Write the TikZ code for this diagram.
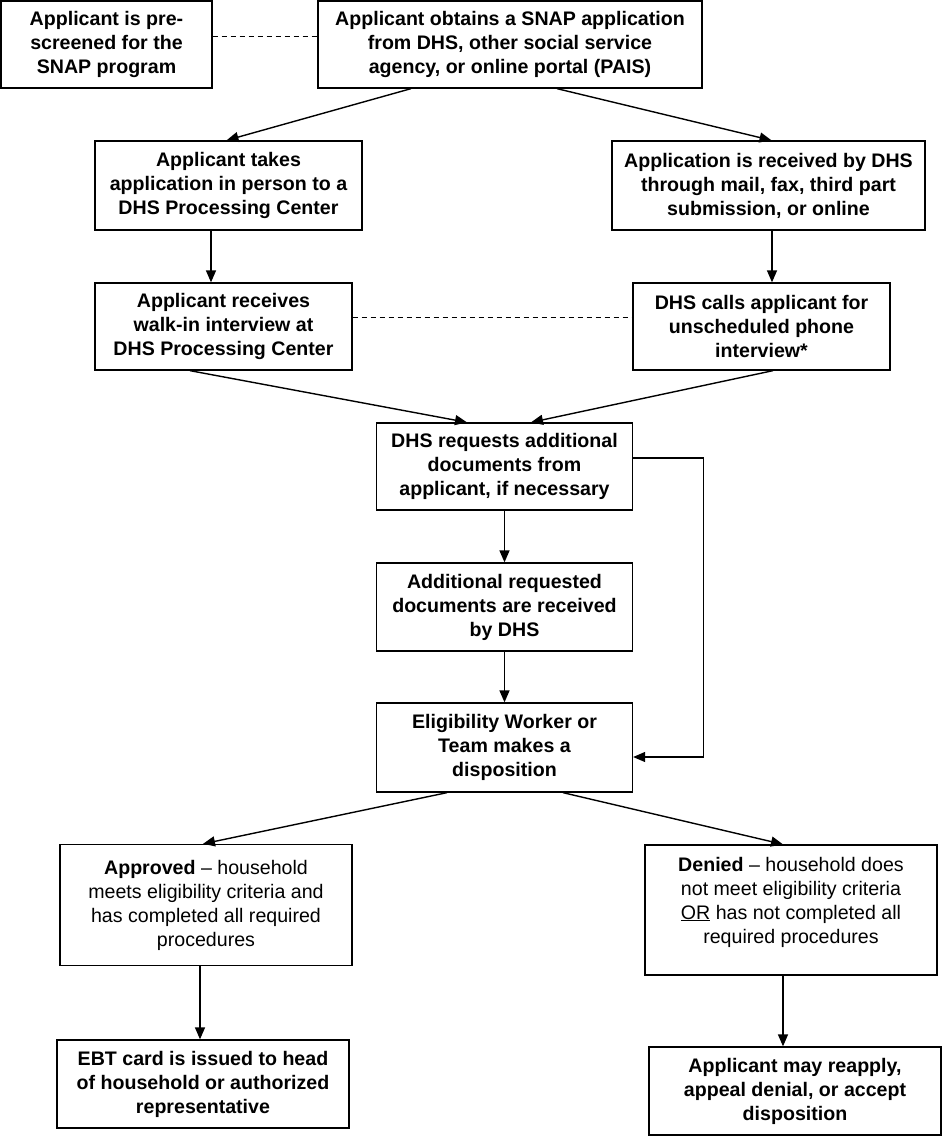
\documentclass[tikz,border=0pt]{standalone}
\usepackage{fontspec}
\setmainfont{Liberation Sans}
\usetikzlibrary{arrows.meta,calc}
\begin{document}
\begin{tikzpicture}[x=1pt,y=-1pt,
  box/.style={draw,line width=1.3pt,align=center,inner sep=2pt,
    font=\fontsize{19.6}{24}\selectfont\bfseries},
  plainbox/.style={box,font=\fontsize{19.6}{24}\selectfont\mdseries},
  txt/.style={align=center,inner sep=0pt,font=\fontsize{19.6}{24}\selectfont\mdseries},
  arr/.style={line width=1.4pt,-{Triangle[length=12pt,width=10pt]}},
  dashline/.style={line width=0.9pt,dash pattern=on 5pt off 4pt}]
\useasboundingbox (0,0) rectangle (943,1137);
\node[box,minimum width=211pt,minimum height=87pt] (b1) at (106.5,44.5)
  {Applicant is pre-\\screened for the\\SNAP program};
\node[box,minimum width=384pt,minimum height=87pt] (b2) at (510,44.5)
  {Applicant obtains a SNAP application\\from DHS, other social service\\agency, or online portal (PAIS)};
\node[box,minimum width=267pt,minimum height=89pt] (b3) at (228.5,185.5)
  {Applicant takes\\application in person to a\\DHS Processing Center};
\node[box,minimum width=313pt,minimum height=89pt] (b4) at (768.5,185.5)
  {Application is received by DHS\\through mail, fax, third part\\submission, or online};
\node[box,minimum width=257pt,minimum height=87pt] (b5) at (223.5,326.5)
  {Applicant receives\\walk-in interview at\\DHS Processing Center};
\node[box,minimum width=257pt,minimum height=87pt] (b6) at (761.5,326.5)
  {DHS calls applicant for\\unscheduled phone\\interview*};
\node[box,minimum width=256pt,minimum height=87pt] (b7) at (504.5,466.5)
  {DHS requests additional\\documents from\\applicant, if necessary};
\node[box,minimum width=256pt,minimum height=88pt] (b8) at (504.5,607)
  {Additional requested\\documents are received\\by DHS};
\node[box,minimum width=256pt,minimum height=89pt] (b9) at (504.5,747.5)
  {Eligibility Worker or\\Team makes a\\disposition};
\node[plainbox,minimum width=292pt,minimum height=121pt] (b10) at (206,905)
  {\textbf{Approved} – household\\meets eligibility criteria and\\has completed all required\\procedures};
\node[box,minimum width=292pt,minimum height=130pt] (b11) at (791,910) {};
\node[txt] (t11) at (791,902)
  {\textbf{Denied} – household does\\not meet eligibility criteria\\\underline{OR} has not completed all\\required procedures};
\node[box,minimum width=292pt,minimum height=88pt] (b12) at (203,1084)
  {EBT card is issued to head\\of household or authorized\\representative};
\node[box,minimum width=292pt,minimum height=88pt] (b13) at (795,1091)
  {Applicant may reapply,\\appeal denial, or accept\\disposition};
% helper coordinates
\coordinate (d1) at ($(b1.east)+(0,-8.5)$);
\coordinate (d5) at ($(b5.east)+(0,-9.5)$);
\coordinate (s3) at ($(b3.south)+(-17.5,0)$);
\coordinate (s4) at ($(b4.south)+(3.5,0)$);
\coordinate (s10) at ($(b10.south)+(-6,0)$);
\coordinate (s11) at ($(b11.south)+(-8,0)$);
\coordinate (l7) at ($(b7.east)+(0,-8.5)$);
\coordinate (l9) at ($(b9.east)+(0,9.5)$);
% dashed links
\draw[dashline] (d1) -- (d1 -| b2.west);
\draw[dashline] (d5) -- (d5 -| b6.west);
% arrows
\draw[arr] ($(b2.south)+(-99,0)$) -- ($(b3.north)+(-2,0)$);
\draw[arr] ($(b2.south)+(47,0)$) -- ($(b4.north)+(3,0)$);
\draw[arr] (s3) -- (s3 |- b5.north);
\draw[arr] (s4) -- (s4 |- b6.north);
\draw[arr] ($(b5.south)+(-33.5,0)$) -- ($(b7.north)+(-37.5,0)$);
\draw[arr] ($(b6.south)+(11.5,0)$) -- ($(b7.north)+(26.5,0)$);
\draw[arr] (b7.south) -- (b8.north);
\draw[arr] (b8.south) -- (b9.north);
\draw[arr,line width=1.2pt] (l7) -- ++(70,0) |- (l9);
\draw[arr] ($(b9.south)+(-57.5,0)$) -- ($(b10.north)+(-3,0)$);
\draw[arr] ($(b9.south)+(58.5,0)$) -- ($(b11.north)+(-8,0)$);
\draw[arr] (s10) -- (s10 |- b12.north);
\draw[arr] (s11) -- (s11 |- b13.north);
\end{tikzpicture}
\end{document}
